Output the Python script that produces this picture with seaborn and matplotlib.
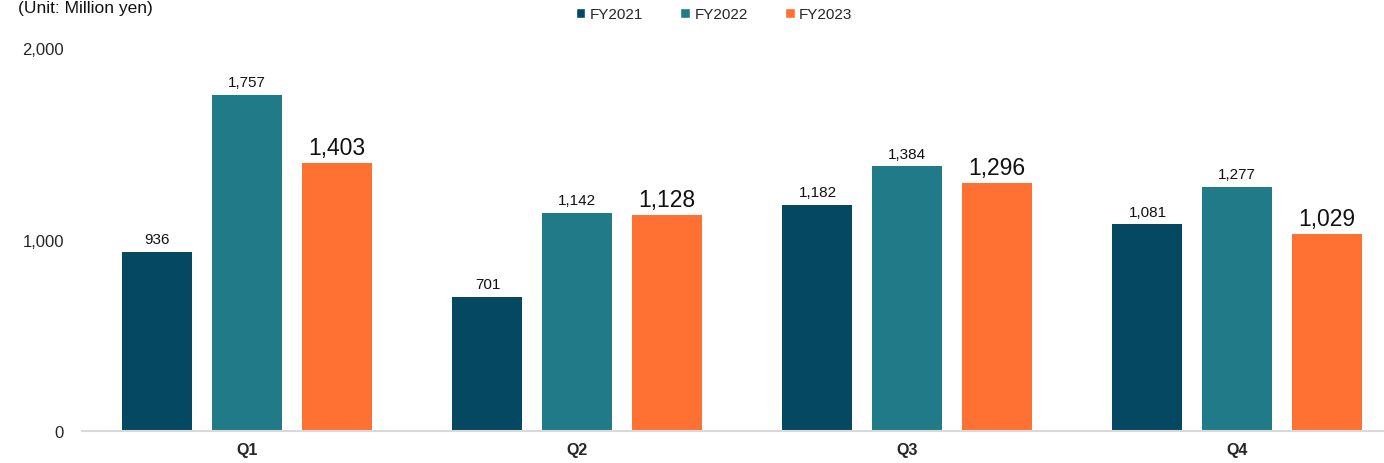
import pandas as pd
import matplotlib
matplotlib.use("Agg")
import matplotlib.pyplot as plt
from matplotlib.ticker import FuncFormatter
from matplotlib.patches import Patch
import seaborn as sns

# Chart data (Unit: Million yen)
quarters = ["Q1", "Q2", "Q3", "Q4"]
years = ["FY2021", "FY2022", "FY2023"]
fy2021 = [936, 701, 1182, 1081]
fy2022 = [1757, 1142, 1384, 1277]
fy2023 = [1403, 1128, 1296, 1029]
colors = ["#044862", "#217a88", "#ff7033"]

df = pd.DataFrame({
    "Quarter": quarters * 3,
    "Year": [y for y in years for _ in quarters],
    "Value": fy2021 + fy2022 + fy2023,
})

sns.set_style("white")
plt.rcParams["font.family"] = ["Liberation Sans", "DejaVu Sans"]

fig = plt.figure(figsize=(13.84, 4.64), dpi=100)
ax = fig.add_axes([82 / 1384, 32 / 464, (1384 - 82) / 1384, 382.5 / 464])

sns.barplot(data=df, x="Quarter", y="Value", hue="Year", order=quarters,
            hue_order=years, palette=colors, width=0.814, gap=0.218,
            saturation=1, legend=False, linewidth=0, edgecolor="none", ax=ax)

# Data labels: FY2023 bigger
for cont, year in zip(ax.containers, years):
    size = 16.5 if year == "FY2023" else 11
    pad = 3 if year == "FY2023" else 4
    ax.bar_label(cont, labels=[f"{v:,.0f}" for v in cont.datavalues],
                 fontsize=size, padding=pad, color="#111111")

ax.set_ylim(0, 2000)
ax.set_xlim(-0.5, 3.5 - 18 / 330)
ax.set_yticks([0, 1000, 2000])
ax.yaxis.set_major_formatter(FuncFormatter(lambda x, _: f"{x:,.0f}"))
ax.tick_params(axis="y", length=0, pad=13, labelsize=12)
ax.tick_params(axis="x", length=0, pad=8, labelsize=11.5)
for lbl in ax.get_xticklabels():
    lbl.set_fontweight("bold")
ax.set_xlabel("")
ax.set_ylabel("")

for side in ["left", "right", "top"]:
    ax.spines[side].set_visible(False)
ax.spines["bottom"].set_color("#d9d9d9")
ax.spines["bottom"].set_linewidth(1.5)

# Legend at top
handles = [Patch(facecolor=c, label=y) for c, y in zip(colors, years)]
fig.legend(handles=handles, loc="center", bbox_to_anchor=(714 / 1384, 1 - 15 / 464),
           ncol=3, frameon=False, fontsize=11, handlelength=0.65, handleheight=0.65,
           handletextpad=0.3, columnspacing=2.4)

fig.text(18 / 1384, 1 - 13 / 464, "(Unit: Million yen)", fontsize=12.5,
         va="baseline", ha="left", color="#111111")

fig.savefig("out.png", dpi=100, facecolor="white")
